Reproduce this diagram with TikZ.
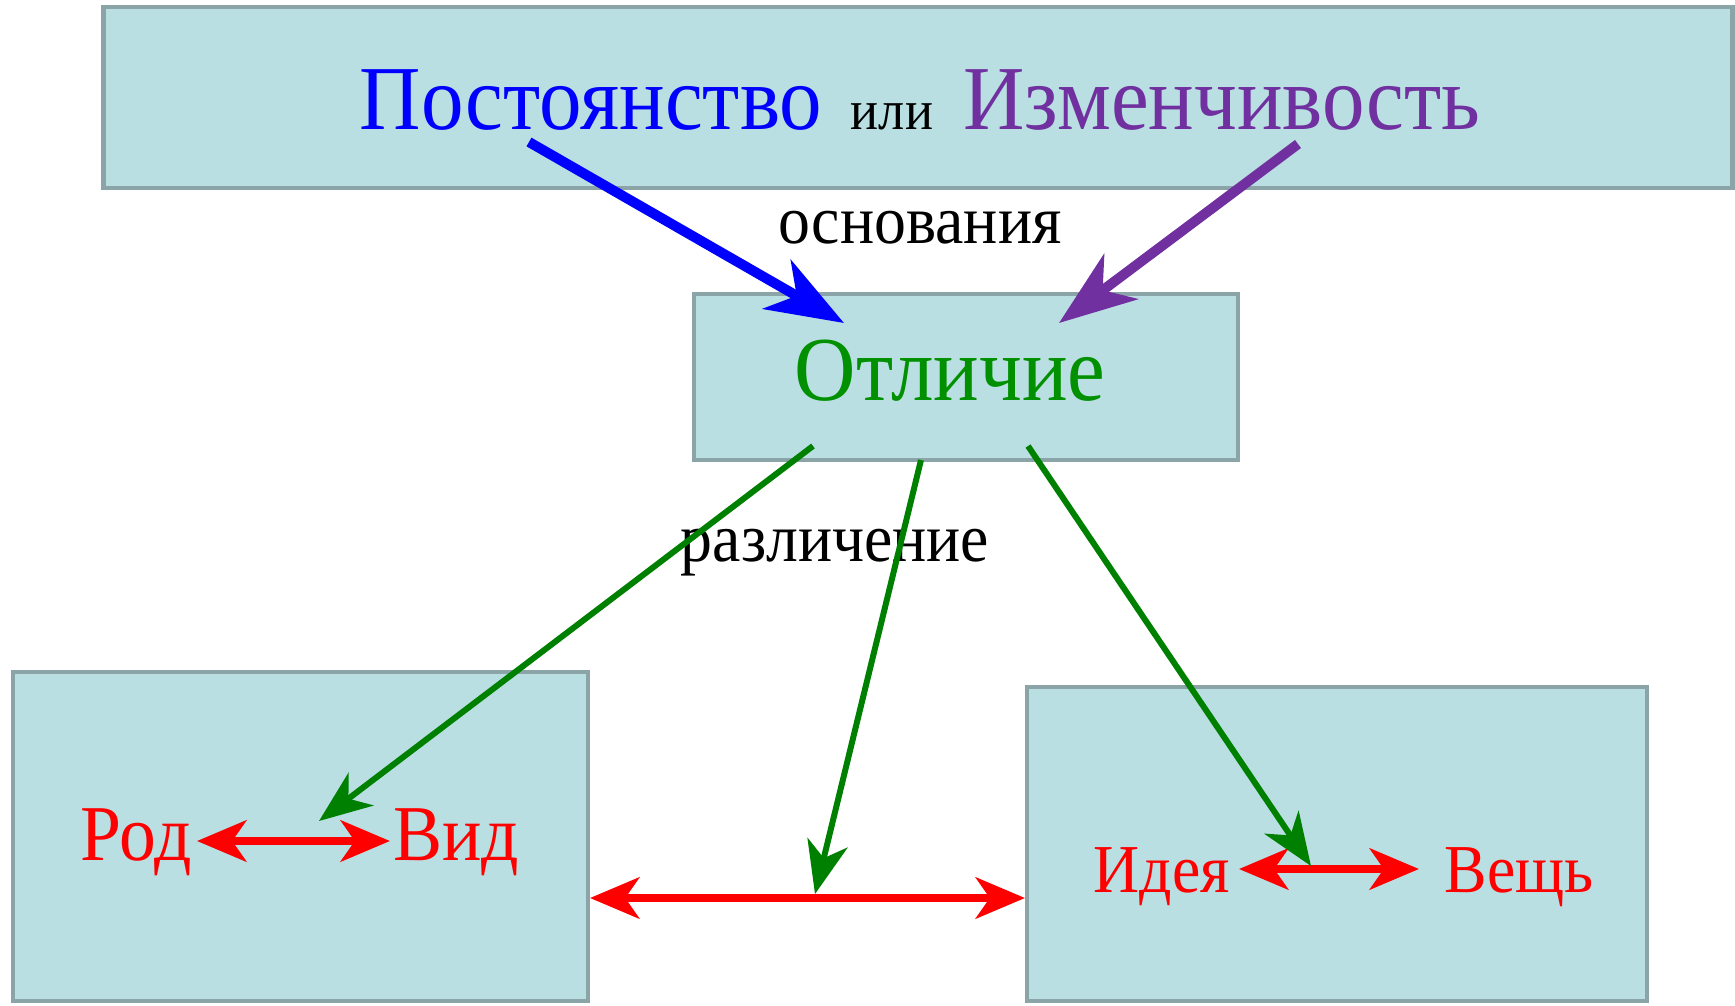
\documentclass[tikz,border=0pt]{standalone}
\usepackage{fontspec}
\usepackage{graphicx}
\setmainfont{Liberation Serif}
\usetikzlibrary{arrows.meta}
\definecolor{boxfill}{HTML}{BADFE2}
\definecolor{boxline}{HTML}{8AA4A8}
\definecolor{vio}{HTML}{7030A0}
\definecolor{grn}{HTML}{008000}
\definecolor{grntext}{HTML}{009000}
\definecolor{redc}{HTML}{FF0000}
\newcommand\condtxt[1]{\scalebox{0.93}[1]{#1}}
\begin{document}
\begin{tikzpicture}[x=0.01cm,y=-0.01cm,
  box/.style={draw=boxline, fill=boxfill, line width=1.3pt, inner sep=0pt},
  bigtxt/.style={anchor=base, inner sep=0pt, font=\fontsize{26pt}{30pt}\selectfont},
  midtxt/.style={anchor=base, inner sep=0pt, font=\fontsize{19.5pt}{23pt}\selectfont},
  redtxt/.style={anchor=base, inner sep=0pt, text=redc},
  thickarr/.style={line width=2.85pt, -{Stealth[length=22pt,width=16pt,inset=6.5pt]}},
  grnarr/.style={draw=grn, line width=1.7pt, -{Stealth[length=15pt,width=11.7pt,inset=4.5pt]}},
  redarr/.style={draw=redc, line width=2.3pt, {Stealth[length=14pt,width=11.7pt,inset=4pt]}-{Stealth[length=14pt,width=11.7pt,inset=4pt]}}
]
\useasboundingbox (0,0) rectangle (1735,1005);
% boxes
\node[box, minimum width=16.28cm, minimum height=1.81cm] (top) at (918,97.5) {};
\node[box, minimum width=5.44cm, minimum height=1.66cm] (mid) at (966,377) {};
\node[box, minimum width=5.75cm, minimum height=3.29cm] (bl) at (300.5,836.5) {};
\node[box, minimum width=6.20cm, minimum height=3.14cm] (br) at (1337,844) {};
% top texts
\node[bigtxt, text=blue] (post) at (591,129) {\condtxt{Постоянство}};
\node[anchor=base, inner sep=0pt, font=\fontsize{16pt}{20pt}\selectfont] (ili) at (892,129) {\condtxt{или}};
\node[bigtxt, text=vio] (izm) at (1222,129) {\condtxt{Изменчивость}};
% middle
\node[bigtxt, text=grntext] (otl) at (950,400) {\condtxt{Отличие}};
\node[midtxt] (osn) at (920,243) {\condtxt{основания}};
\node[midtxt] (raz) at (835,561) {\condtxt{различение}};
% bottom texts
\node[redtxt, font=\fontsize{22.5pt}{26pt}\selectfont] (rod) at (136,860) {\condtxt{Род}};
\node[redtxt, font=\fontsize{22.5pt}{26pt}\selectfont] (vid) at (456,860) {\condtxt{Вид}};
\node[redtxt, font=\fontsize{19.5pt}{23pt}\selectfont] (idea) at (1162,892) {\condtxt{Идея}};
\node[redtxt, font=\fontsize{19.5pt}{23pt}\selectfont] (vesh) at (1519,892) {\condtxt{Вещь}};
% coordinates
\coordinate (bs) at (529,142);
\coordinate (be) at (844,323);
\coordinate (ps) at (1298,144);
\coordinate (pe) at (1059,323);
\coordinate (g1s) at (813,446);
\coordinate (g1e) at (319,821);
\coordinate (g2s) at (921,460);
\coordinate (g2e) at (815,894);
\coordinate (g3s) at (1028,446);
\coordinate (g3e) at (1311,866);
\coordinate (r1a) at (197,841);
\coordinate (r1b) at (390,841);
\coordinate (r2a) at (590,898);
\coordinate (r2b) at (1025,898);
\coordinate (r3a) at (1239,869);
\coordinate (r3b) at (1419,869);
% arrows
\draw[thickarr, draw=blue, fill=blue] (bs) -- (be);
\draw[thickarr, draw=vio, fill=vio] (ps) -- (pe);
\draw[redarr, fill=redc] (r1a) -- (r1b);
\draw[redarr, fill=redc] (r2a) -- (r2b);
\draw[redarr, fill=redc] (r3a) -- (r3b);
\draw[grnarr, fill=grn] (g1s) -- (g1e);
\draw[grnarr, fill=grn] (g2s) -- (g2e);
\draw[grnarr, fill=grn] (g3s) -- (g3e);
\end{tikzpicture}
\end{document}
